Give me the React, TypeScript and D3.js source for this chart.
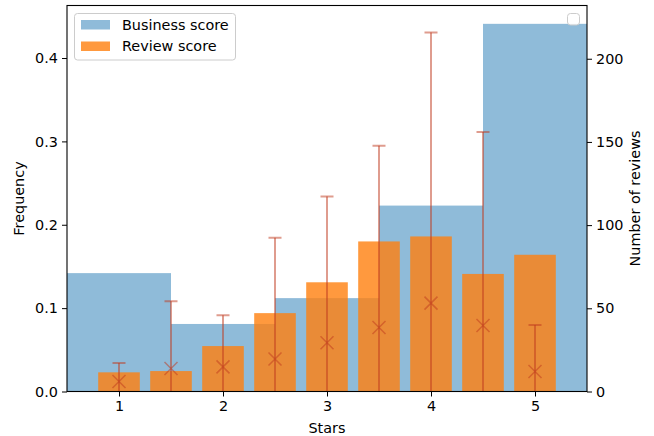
import React, { useEffect, useRef } from 'react';
import * as d3 from 'd3';

// histogram of business ratings (left axis, frequency)
const stars = [1, 2, 3, 4, 5];
const businessFreq = [0.142, 0.081, 0.112, 0.223, 0.441];

// review ratings in half-star steps
const reviewStars = [1, 1.5, 2, 2.5, 3, 3.5, 4, 4.5, 5];
const reviewFreq = [0.023, 0.0245, 0.0545, 0.094, 0.131, 0.18, 0.186, 0.141, 0.164];

// number of reviews per business (right axis), mean and std
const reviewMean = [6, 13.8, 14.8, 19.5, 29.3, 38.5, 53.1, 39.7, 12];
const reviewStd = [11.2, 40.5, 31.1, 72.9, 87.9, 109.2, 162.6, 116.3, 27.9];

const freqTicks = [0, 0.1, 0.2, 0.3, 0.4];
const countTicks = [0, 50, 100, 150, 200];

const App = () => {
    const ref = useRef<SVGSVGElement | null>(null);

    useEffect(() => {
        document.body.style.margin = '0';
        if (!ref.current) return;

        const width = 654;
        const height = 436;
        const margin = { top: 5.5, right: 67, bottom: 44.5, left: 67 };
        const font = 'DejaVu Sans, sans-serif';
        const fs = 14.4;

        const svg = d3.select(ref.current);
        svg.selectAll('*').remove();

        const x = d3.scaleLinear().domain([0.5, 5.5]).range([margin.left, width - margin.right]);
        const yL = d3.scaleLinear().domain([0, 0.463]).range([height - margin.bottom, margin.top]);
        const yR = d3.scaleLinear().domain([0, 232]).range([height - margin.bottom, margin.top]);

        svg.append('defs').append('clipPath').attr('id', 'plot-clip')
            .append('rect')
            .attr('x', margin.left).attr('y', margin.top)
            .attr('width', width - margin.left - margin.right)
            .attr('height', height - margin.top - margin.bottom);

        const plot = svg.append('g').attr('clip-path', 'url(#plot-clip)');

        // business score histogram
        plot.selectAll('rect.biz')
            .data(stars)
            .enter()
            .append('rect')
            .attr('class', 'biz')
            .attr('x', d => x(d - 0.5))
            .attr('width', d => x(d + 0.5) - x(d - 0.5))
            .attr('y', (d, i) => yL(businessFreq[i]))
            .attr('height', (d, i) => yL(0) - yL(businessFreq[i]))
            .attr('fill', '#1f77b4')
            .attr('fill-opacity', 0.5);

        // review score bars
        plot.selectAll('rect.rev')
            .data(reviewStars)
            .enter()
            .append('rect')
            .attr('class', 'rev')
            .attr('x', d => x(d - 0.2))
            .attr('width', d => x(d + 0.2) - x(d - 0.2))
            .attr('y', (d, i) => yL(reviewFreq[i]))
            .attr('height', (d, i) => yL(0) - yL(reviewFreq[i]))
            .attr('fill', '#ff7f0e')
            .attr('fill-opacity', 0.8);

        // error bars on the twin axis
        const errColor = '#bf3a1e';
        const eb = plot.selectAll('g.err')
            .data(reviewStars)
            .enter()
            .append('g')
            .attr('class', 'err')
            .attr('stroke', errColor)
            .attr('stroke-opacity', 0.5)
            .attr('fill', 'none');

        eb.append('line')
            .attr('x1', d => x(d)).attr('x2', d => x(d))
            .attr('y1', (d, i) => yR(reviewMean[i] - reviewStd[i]))
            .attr('y2', (d, i) => yR(reviewMean[i] + reviewStd[i]))
            .attr('stroke-width', 2);

        eb.append('line')
            .attr('x1', d => x(d) - 6.5).attr('x2', d => x(d) + 6.5)
            .attr('y1', (d, i) => yR(reviewMean[i] + reviewStd[i]))
            .attr('y2', (d, i) => yR(reviewMean[i] + reviewStd[i]))
            .attr('stroke-width', 2);

        eb.append('path')
            .attr('d', (d, i) => {
                const cx = x(d), cy = yR(reviewMean[i]), s = 6.5;
                return `M${cx - s},${cy - s}L${cx + s},${cy + s}M${cx - s},${cy + s}L${cx + s},${cy - s}`;
            })
            .attr('stroke-width', 1.5);

        // frame
        svg.append('rect')
            .attr('x', margin.left).attr('y', margin.top)
            .attr('width', width - margin.left - margin.right)
            .attr('height', height - margin.top - margin.bottom)
            .attr('fill', 'none')
            .attr('stroke', '#000')
            .attr('stroke-width', 1.1);

        const styleAxis = (g: any) => {
            g.select('.domain').remove();
            g.selectAll('text').attr('font-family', font).attr('font-size', fs).attr('fill', '#000');
            g.selectAll('line').attr('stroke', '#000');
        };

        svg.append('g')
            .attr('transform', `translate(0,${height - margin.bottom})`)
            .call(d3.axisBottom(x).tickValues(stars).tickFormat(d3.format('d')).tickSize(5).tickPadding(4))
            .call(styleAxis);

        svg.append('g')
            .attr('transform', `translate(${margin.left},0)`)
            .call(d3.axisLeft(yL).tickValues(freqTicks).tickFormat(d3.format('.1f')).tickSize(5).tickPadding(4))
            .call(styleAxis);

        svg.append('g')
            .attr('transform', `translate(${width - margin.right},0)`)
            .call(d3.axisRight(yR).tickValues(countTicks).tickFormat(d3.format('d')).tickSize(5).tickPadding(4))
            .call(styleAxis);

        // axis labels
        svg.append('text')
            .attr('x', (margin.left + width - margin.right) / 2)
            .attr('y', 433)
            .attr('text-anchor', 'middle')
            .attr('font-family', font).attr('font-size', fs)
            .text('Stars');

        svg.append('text')
            .attr('transform', `translate(24,${(margin.top + height - margin.bottom) / 2}) rotate(-90)`)
            .attr('text-anchor', 'middle')
            .attr('font-family', font).attr('font-size', fs)
            .text('Frequency');

        svg.append('text')
            .attr('transform', `translate(640,${(margin.top + height - margin.bottom) / 2}) rotate(-90)`)
            .attr('text-anchor', 'middle')
            .attr('font-family', font).attr('font-size', fs)
            .text('Number of reviews');

        // legend
        const legend = svg.append('g');
        legend.append('rect')
            .attr('x', 74.5).attr('y', 13.5)
            .attr('width', 161).attr('height', 46.5)
            .attr('rx', 3)
            .attr('fill', '#fff').attr('fill-opacity', 0.8)
            .attr('stroke', '#ccc');

        const items = [
            { label: 'Business score', color: '#1f77b4', opacity: 0.5 },
            { label: 'Review score', color: '#ff7f0e', opacity: 0.8 }
        ];
        items.forEach((item, i) => {
            legend.append('rect')
                .attr('x', 81).attr('y', 20 + i * 21.5)
                .attr('width', 29).attr('height', 9.5)
                .attr('fill', item.color).attr('fill-opacity', item.opacity);
            legend.append('text')
                .attr('x', 122).attr('y', 29.5 + i * 21.5)
                .attr('font-family', font).attr('font-size', fs)
                .text(item.label);
        });

        // empty legend of the twin axis
        svg.append('rect')
            .attr('x', 567.5).attr('y', 13.5)
            .attr('width', 12).attr('height', 11.5)
            .attr('rx', 3)
            .attr('fill', '#fff').attr('fill-opacity', 0.8)
            .attr('stroke', '#ccc');
    }, []);

    return (
        <div style={{ position: 'absolute', left: 0, top: 0 }}>
            <svg ref={ref} width={654} height={436} style={{ display: 'block', background: '#fff' }} />
        </div>
    );
};

export default App;
